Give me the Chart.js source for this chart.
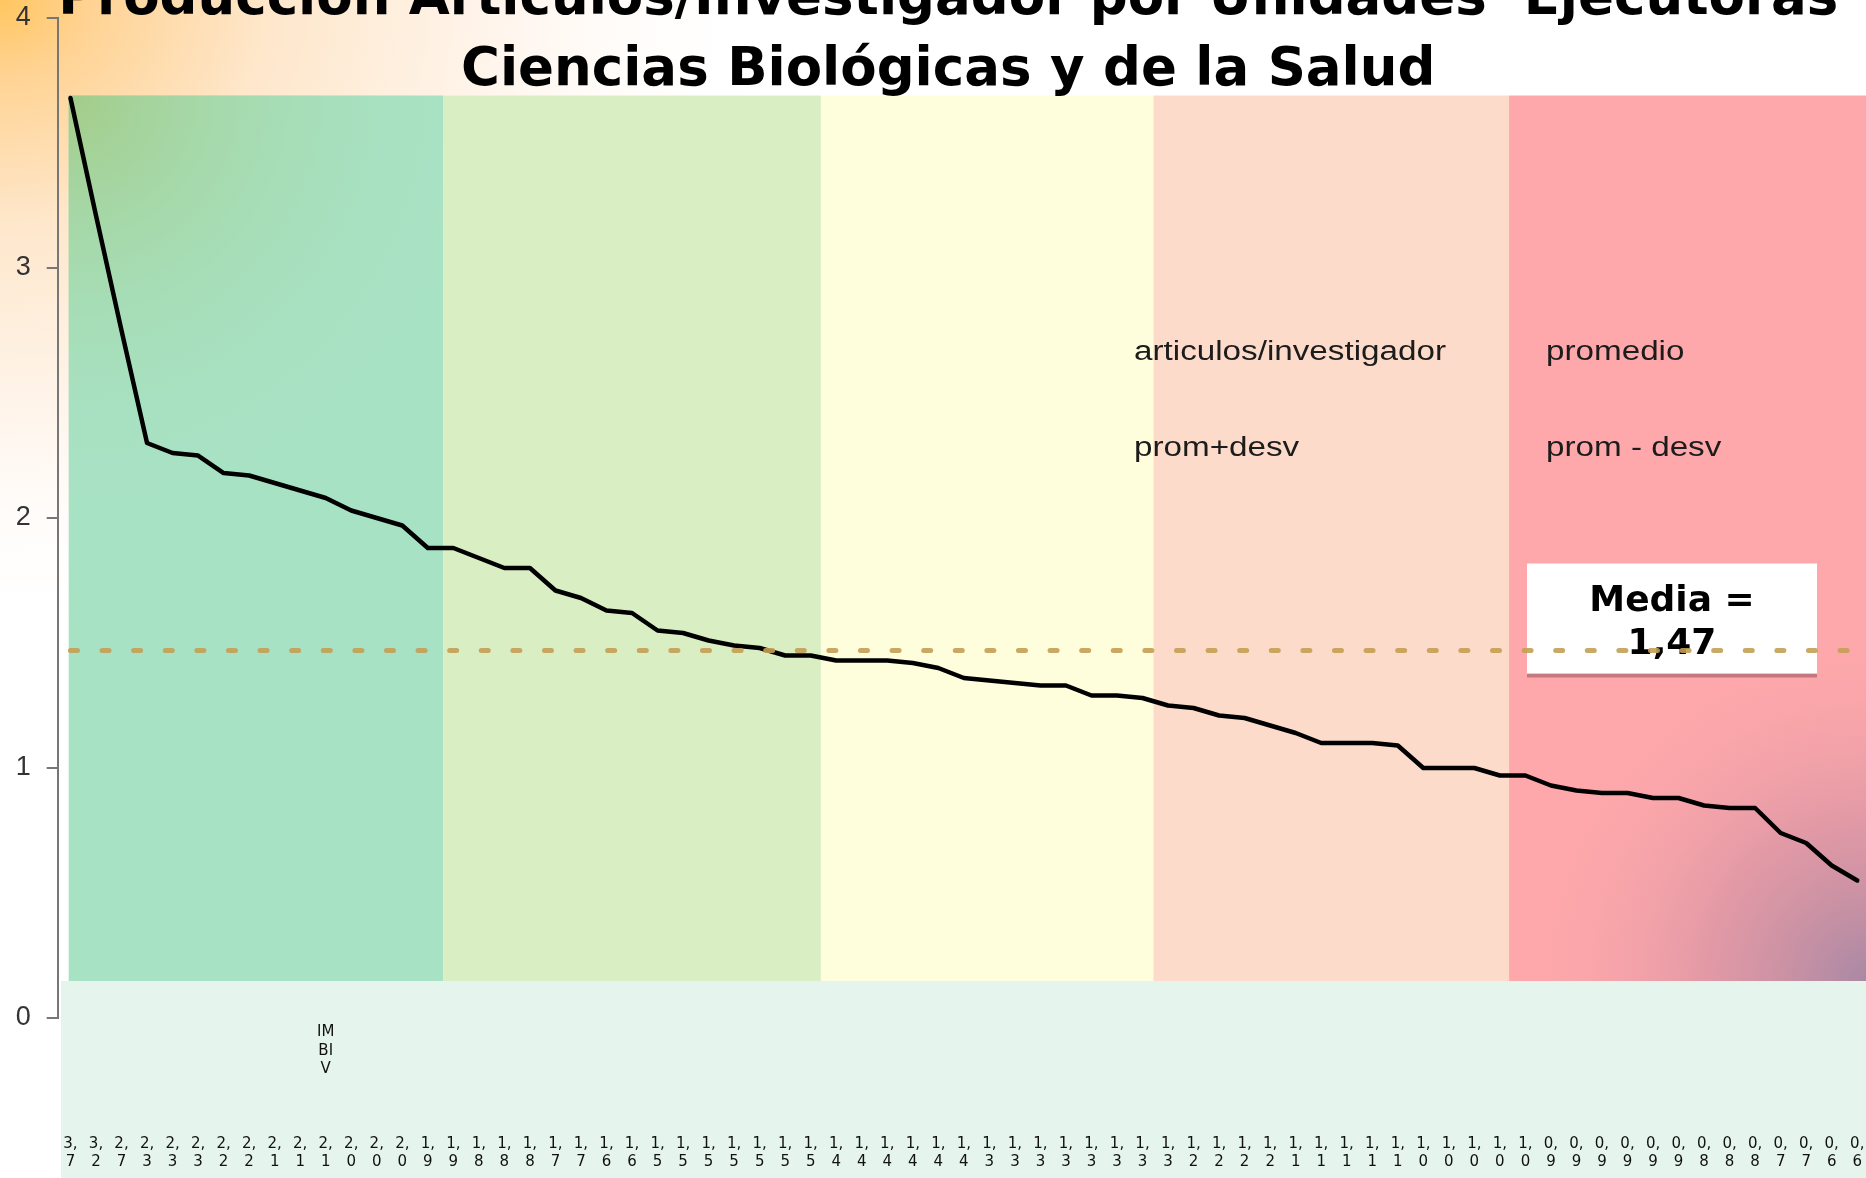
<!DOCTYPE html>
<html>
<head>
<meta charset="utf-8">
<script src="https://cdn.jsdelivr.net/npm/chart.js@4.4.1/dist/chart.umd.min.js"></script>
<style>
  html, body { margin: 0; padding: 0; overflow: hidden; background: #fff; }
  #grafico { display: block; }
</style>
</head>
<body>
<canvas id="grafico" width="1870" height="1178"></canvas>
<script>
// artículos por investigador, unidades ordenadas de mayor a menor
const valores = [
  3.68, 3.21, 2.75, 2.30, 2.26, 2.25, 2.18, 2.17, 2.14, 2.11,
  2.08, 2.03, 2.00, 1.97, 1.88, 1.88, 1.84, 1.80, 1.80, 1.71,
  1.68, 1.63, 1.62, 1.55, 1.54, 1.51, 1.49, 1.48, 1.45, 1.45,
  1.43, 1.43, 1.43, 1.42, 1.40, 1.36, 1.35, 1.34, 1.33, 1.33,
  1.29, 1.29, 1.28, 1.25, 1.24, 1.21, 1.20, 1.17, 1.14, 1.10,
  1.10, 1.10, 1.09, 1.00, 1.00, 1.00, 0.97, 0.97, 0.93, 0.91,
  0.90, 0.90, 0.88, 0.88, 0.85, 0.84, 0.84, 0.74, 0.70, 0.61, 0.55
];

const etiquetas = [
  '3,7', '3,2', '2,7', '2,3', '2,3', '2,3', '2,2', '2,2', '2,1', '2,1',
  '2,1', '2,0', '2,0', '2,0', '1,9', '1,9', '1,8', '1,8', '1,8', '1,7',
  '1,7', '1,6', '1,6', '1,5', '1,5', '1,5', '1,5', '1,5', '1,5', '1,5',
  '1,4', '1,4', '1,4', '1,4', '1,4', '1,4', '1,3', '1,3', '1,3', '1,3',
  '1,3', '1,3', '1,3', '1,3', '1,2', '1,2', '1,2', '1,2', '1,1', '1,1',
  '1,1', '1,1', '1,1', '1,0', '1,0', '1,0', '1,0', '1,0', '0,9', '0,9',
  '0,9', '0,9', '0,9', '0,9', '0,8', '0,8', '0,8', '0,7', '0,7', '0,6', '0,6'
];

// solo una unidad tiene nombre en el eje
const unidades = etiquetas.map(() => '');
unidades[10] = 'IMBIV';

const media = 1.47;
const yTicks = [0, 1, 2, 3, 4];
const leyenda = ['articulos/investigador', 'promedio', 'prom+desv', 'prom - desv'];
const titulo = ['Producción Artículos/Investigador por Unidades  Ejecutoras', 'Ciencias Biológicas y de la Salud'];

// franjas de fondo (en unidades de los ejes)
const franjas = [-0.07, 14.6, 29.4, 42.43, 56.36, 71];
const franjaArriba = 3.69;
const franjaAbajo = 0.148;
const coloresFranja = ['#A8E2C4', '#D9EEC3', '#FEFEDC', '#FDDBCB', '#FEA8AB'];

const fondo = {
  id: 'fondo',
  beforeDraw(chart) {
    const { ctx, width, height } = chart;
    const { x, y } = chart.scales;
    ctx.save();
    ctx.fillStyle = '#fff';
    ctx.fillRect(0, 0, width, height);

    // esquina naranja
    ctx.save();
    ctx.scale(1.2, 1);
    const g = ctx.createRadialGradient(0, 0, 0, 0, 0, 640);
    g.addColorStop(0, '#FFC660');
    g.addColorStop(0.12, '#FFD394');
    g.addColorStop(0.35, '#FEE7CB');
    g.addColorStop(0.65, '#FFF5EC');
    g.addColorStop(1, 'rgba(255,255,255,0)');
    ctx.fillStyle = g;
    ctx.fillRect(0, 0, 700, 700);
    ctx.restore();

    const top = y.getPixelForValue(franjaArriba);
    const bottom = y.getPixelForValue(franjaAbajo);

    ctx.fillStyle = '#E5F4EC';
    const mintLeft = x.getPixelForValue(-0.37);
    ctx.fillRect(mintLeft, bottom, width - mintLeft, height - bottom);

    for (let i = 0; i < coloresFranja.length; i++) {
      const l = x.getPixelForValue(franjas[i]);
      const r = Math.min(x.getPixelForValue(franjas[i + 1]), width);
      ctx.fillStyle = coloresFranja[i];
      ctx.fillRect(l, top, r - l, bottom - top);

      if (i === 0) {
        const gv = ctx.createRadialGradient(l, top, 0, l, top, 420);
        gv.addColorStop(0, 'rgba(163,204,136,1)');
        gv.addColorStop(1, 'rgba(168,226,196,0)');
        ctx.fillStyle = gv;
        ctx.fillRect(l, top, r - l, bottom - top);
      }
      if (i === coloresFranja.length - 1) {
        const gm = ctx.createRadialGradient(width, bottom, 0, width, bottom, 360);
        gm.addColorStop(0, 'rgba(168,136,164,1)');
        gm.addColorStop(0.45, 'rgba(210,145,162,0.65)');
        gm.addColorStop(1, 'rgba(254,168,171,0)');
        ctx.fillStyle = gm;
        ctx.fillRect(l, top, r - l, bottom - top);
      }
    }
    ctx.restore();
  },
  beforeDatasetsDraw(chart) {
    const { ctx } = chart;
    const { y } = chart.scales;
    const ym = y.getPixelForValue(media);
    ctx.save();

    // cuadro de la media
    const bx = 1527, bw = 290, by = ym - 87, bh = 110;
    ctx.fillStyle = 'rgba(150,80,90,0.55)';
    ctx.fillRect(bx, by + bh, bw, 4);
    ctx.fillStyle = '#fff';
    ctx.fillRect(bx, by, bw, bh);
    ctx.fillStyle = '#000';
    ctx.font = 'bold 36px "DejaVu Sans"';
    ctx.textAlign = 'center';
    ctx.textBaseline = 'middle';
    ctx.fillText('Media =', bx + bw / 2, by + 38);
    ctx.fillText(media.toFixed(2).replace('.', ','), bx + bw / 2, by + 81);

    // leyenda sin marcas
    ctx.fillStyle = '#1c1c1c';
    ctx.font = '27px "Liberation Sans"';
    ctx.textAlign = 'left';
    const pos = [[1134, 353], [1546, 353], [1134, 449], [1546, 449]];
    leyenda.forEach((t, i) => {
      ctx.save();
      ctx.translate(pos[i][0], pos[i][1]);
      ctx.scale(1.23, 1);
      ctx.fillText(t, 0, 0);
      ctx.restore();
    });
    ctx.restore();
  },
  afterDatasetsDraw(chart) {
    const { ctx } = chart;
    const { x, y } = chart.scales;
    const ym = y.getPixelForValue(media);
    ctx.save();
    ctx.strokeStyle = 'rgba(196,158,84,0.9)';
    ctx.lineWidth = 5;
    ctx.lineCap = 'round';
    ctx.setLineDash([7, 24.6]);
    ctx.beginPath();
    ctx.moveTo(x.getPixelForValue(0), ym);
    ctx.lineTo(x.getPixelForValue(etiquetas.length - 1), ym);
    ctx.stroke();
    ctx.restore();
  }
};

new Chart(document.getElementById('grafico'), {
  type: 'line',
  data: {
    labels: etiquetas,
    datasets: [{
      label: leyenda[0],
      data: valores,
      borderColor: '#000',
      borderWidth: 4.5,
      borderJoinStyle: 'round',
      borderCapStyle: 'round',
      pointRadius: 0,
      tension: 0,
      fill: false,
    }],
  },
  options: {
    responsive: false,
    animation: false,
    devicePixelRatio: 1,
    layout: { padding: 0 },
    plugins: {
      legend: { display: false },
      tooltip: { enabled: false },
      title: {
        display: true,
        // el espacio inicial corre el título hacia la derecha, como en el original
        text: titulo.map(t => '\u2002' + t),
        color: '#000',
        font: { family: 'DejaVu Sans', size: 53, weight: 'bold', lineHeight: 1.34 },
        padding: { top: -35.5, bottom: -88.5 },
      },
    },
    scales: {
      x: {
        offset: true,
        grid: { display: false, drawTicks: false },
        border: { display: false },
        afterFit(s) { s.height = 160; },
        ticks: {
          autoSkip: false,
          maxRotation: 0,
          padding: 5,
          color: '#111',
          font: { family: 'DejaVu Sans', size: 15, lineHeight: 1.24 },
          callback(v, i) {
            const [a, b] = etiquetas[i].split(',');
            const u = unidades[i];
            const arriba = u ? [u.slice(0, 2), u.slice(2, 4), u.slice(4)] : ['', '', ''];
            return [...arriba, '', '', '', a + ',', b];
          },
        },
      },
      y: {
        min: yTicks[0],
        max: yTicks[yTicks.length - 1],
        afterFit(s) {
          s.width = 57.7;
          s.paddingTop = 0;
          s.paddingBottom = 0;
        },
        afterBuildTicks(s) { s.ticks = yTicks.map(v => ({ value: v })); },
        grid: { drawOnChartArea: false, color: '#777', lineWidth: 2, tickLength: 11 },
        border: { color: '#777', width: 2 },
        ticks: {
          padding: 16,
          color: '#333',
          font: { family: 'Liberation Sans', size: 27 },
        },
      },
    },
  },
  plugins: [fondo],
});
</script>
</body>
</html>
